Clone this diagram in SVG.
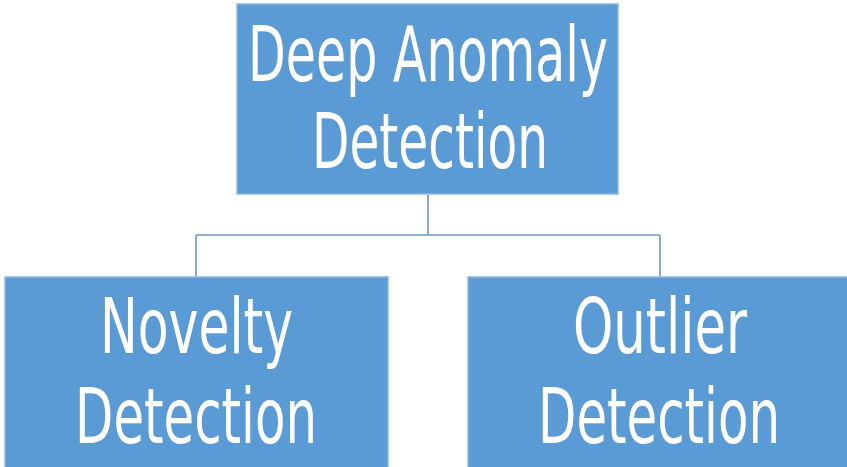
<svg xmlns="http://www.w3.org/2000/svg" width="847" height="467" viewBox="0 0 847 467">
<style>
.box{fill:#5b9bd5;stroke:#8db8e3;stroke-width:1.5}
.lbl{fill:#ffffff;font-family:"DejaVu Sans","Liberation Sans",sans-serif;font-stretch:condensed;font-size:55px;text-anchor:middle}
.conn{fill:none;stroke:#7098c4;stroke-width:1.6}
</style>
<rect width="847" height="467" fill="#ffffff"/>
<g id="connectors">
<path class="conn" d="M428 195 V235 M196 235 H660 M196 235 V277 M660 235 V277"/>
</g>
<g id="root">
<rect class="box" x="237" y="4" width="381" height="190"/>
<text class="lbl" transform="translate(428 81) scale(1 1.4)" textLength="360" lengthAdjust="spacingAndGlyphs">Deep Anomaly</text>
<text class="lbl" transform="translate(430 168) scale(1 1.4)" textLength="236" lengthAdjust="spacingAndGlyphs">Detection</text>
</g>
<g id="novelty">
<rect class="box" x="5" y="277" width="383" height="195"/>
<text class="lbl" transform="translate(196.5 353) scale(1 1.4)" textLength="193" lengthAdjust="spacingAndGlyphs">Novelty</text>
<text class="lbl" transform="translate(196 443) scale(1 1.4)" textLength="242" lengthAdjust="spacingAndGlyphs">Detection</text>
</g>
<g id="outlier">
<rect class="box" x="468" y="277" width="383" height="195"/>
<text class="lbl" transform="translate(660 353) scale(1 1.4)" textLength="174" lengthAdjust="spacingAndGlyphs">Outlier</text>
<text class="lbl" transform="translate(659 443) scale(1 1.4)" textLength="242" lengthAdjust="spacingAndGlyphs">Detection</text>
</g>
</svg>
